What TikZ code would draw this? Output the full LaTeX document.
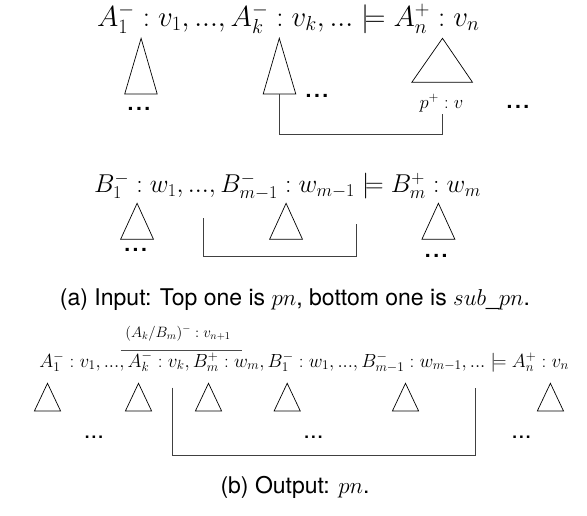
\RequirePackage{fix-cm}
\documentclass[tikz,border=0pt]{standalone}
\usepackage{fontspec}
\newfontfamily\capfont{TeX Gyre Heros}
\begin{document}
\begin{tikzpicture}[x=1pt,y=-1pt,
  tri/.style={draw=black,line width=0.7pt,line join=miter},
  conn/.style={draw=black!75,line width=0.8pt},
  topmath/.style={inner sep=0pt,anchor=base,font=\fontsize{29}{34}\selectfont},
  botmath/.style={inner sep=0pt,anchor=base,font=\fontsize{25.8}{30}\selectfont},
  outmath/.style={inner sep=0pt,anchor=base,font=\fontsize{19}{23}\selectfont},
  pvmath/.style={inner sep=0pt,anchor=base,font=\fontsize{18.5}{22}\selectfont},
  labmath/.style={inner sep=0pt,anchor=base,font=\fontsize{15}{18}\selectfont},
  dotsbig/.style={inner sep=0pt,anchor=base,font=\capfont\fontsize{30}{34}\selectfont},
  dotssmall/.style={inner sep=0pt,anchor=base,font=\capfont\fontsize{24}{28}\selectfont},
  caption/.style={inner sep=0pt,anchor=base,font=\capfont\fontsize{23}{28}\selectfont}]
\useasboundingbox (0,0) rectangle (587,515);
% ---------- (a) top ----------
\node[topmath] (fa1) at (288.3,26) {$A_1^- : v_1, ..., A_k^- : v_k, ... \models A_n^+ : v_n$};
\draw[tri] (141.1,38.3) -- (157.2,94) -- (124.7,94) -- cycle;
\draw[tri] (279.3,38.3) -- (295.8,94) -- (263.2,94) -- cycle;
\draw[tri] (442.5,38.3) -- (472.5,82.3) -- (411.8,82.3) -- cycle;
\coordinate (t2b) at (279.3,94);
\node[dotsbig] (d1) at (139,110.5) {...};
\node[dotsbig] (d2) at (317,97.3) {...};
\node[dotsbig] (d3) at (518,108.3) {...};
\node[pvmath] (pv) at (441.4,108) {$p^+ : v$};
\coordinate (pvb) at (442.5,114.3);
\draw[conn] (t2b) |- (442.5,134.3) -- (pvb);
% ---------- (a) bottom ----------
\node[botmath] (fa2) at (287.4,192.5) {$B_1^- : w_1, ..., B_{m-1}^- : w_{m-1} \models B_m^+ : w_m$};
\draw[tri] (137.1,203.3) -- (153.5,239.3) -- (120.6,239.3) -- cycle;
\draw[tri] (286.1,203.3) -- (302.5,239.3) -- (269.6,239.3) -- cycle;
\draw[tri] (438.4,203.3) -- (454.9,239.3) -- (421.9,239.3) -- cycle;
\node[dotsbig] (d4) at (135.6,251.6) {...};
\node[dotsbig] (d5) at (436.2,257.6) {...};
\coordinate (bl) at (203.3,218.3);
\coordinate (br) at (356.4,224);
\draw[conn] (bl) |- (356.4,256.7) -- (br);
\node[caption] (capa) at (295,305) {(a) Input: Top one is $pn$, bottom one is $sub\_pn$.};
% ---------- (b) ----------
\node[labmath] (lab) at (178,337) {$(A_k/B_m)^- : v_{n+1}$};
\coordinate (ol) at (120.6,350.7);
\coordinate (or) at (241.5,350.7);
\draw[draw=black!70,line width=0.8pt] (ol) -- (or);
\node[outmath] (fb) at (304.2,367) {$A_1^- : v_1, ..., A_k^- : v_k, B_m^+ : w_m, B_1^- : w_1, ..., B_{m-1}^- : w_{m-1}, ... \models A_n^+ : v_n$};
\foreach \cx/\nm in {47.5/u1,138.5/u2,208.5/u3,287.2/u4,405.5/u5,550.4/u6}{
  \draw[tri] (\cx,383.3) -- (\cx+13.1,411) -- (\cx-13.1,411) -- cycle;
}
\node[dotssmall] (d6) at (94,438.5) {...};
\node[dotssmall] (d7) at (313.5,438.5) {...};
\node[dotssmall] (d8) at (521.5,438.5) {...};
\coordinate (cl) at (172.2,387.7);
\coordinate (cr) at (475.5,387.7);
\draw[conn] (cl) |- (475.5,455) -- (cr);
\node[caption] (capb) at (295,493) {(b) Output: $pn$.};
\end{tikzpicture}
\end{document}
